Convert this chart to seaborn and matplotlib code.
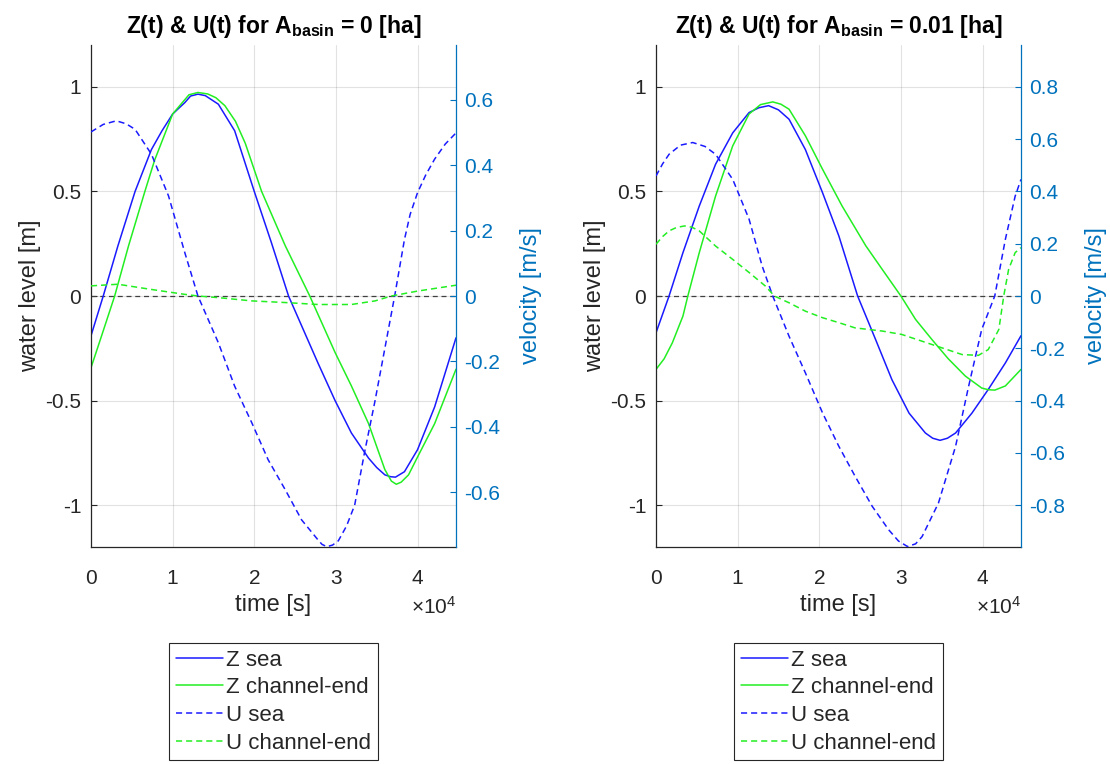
import matplotlib
matplotlib.use("Agg")
import matplotlib.pyplot as plt
import seaborn as sns

# ---------------- data ----------------
# A_basin = 0 [ha]
t_zsea_0 = [0, 1500, 3300, 5400, 7400, 8700, 10000, 11500, 12200, 13100, 14000, 15600,
            17600, 20000, 22100, 24200, 27800, 29900, 31900, 34000, 35000, 36000, 36700,
            37300, 38400, 40000, 42100, 44714]
zsea_0 = [-0.19, 0.0, 0.24, 0.50, 0.70, 0.79, 0.87, 0.925, 0.956, 0.965, 0.958, 0.917,
          0.79, 0.50, 0.255, 0.0, -0.32, -0.50, -0.655, -0.775, -0.82, -0.855, -0.864,
          -0.866, -0.84, -0.735, -0.53, -0.20]

t_zce_0 = [0, 1300, 2900, 4600, 6600, 7800, 10000, 12000, 13100, 14300, 15300, 16400,
           17700, 18900, 20900, 23800, 26800, 29900, 31900, 34000, 36000, 36800, 37400,
           38000, 38900, 40000, 42100, 44714]
zce_0 = [-0.343, -0.19, 0.0, 0.24, 0.50, 0.65, 0.87, 0.962, 0.973, 0.966, 0.948, 0.91,
         0.835, 0.73, 0.50, 0.24, 0.0, -0.27, -0.43, -0.61, -0.83, -0.885, -0.90, -0.89,
         -0.855, -0.77, -0.61, -0.35]

t_usea_0 = [0, 1500, 3100, 4300, 5400, 7400, 9500, 11500, 13100, 15600, 17600, 19700,
            21700, 23800, 25800, 27800, 28300, 28900, 29600, 30300, 31300, 32300, 33500,
            34800, 36000, 37200, 38400, 39100, 40000, 41000, 42100, 43400, 44714]
usea_0 = [0.502, 0.525, 0.536, 0.527, 0.510, 0.434, 0.306, 0.132, 0.0, -0.143, -0.276,
          -0.388, -0.501, -0.593, -0.685, -0.746, -0.760, -0.767, -0.762, -0.749, -0.704,
          -0.64, -0.48, -0.32, -0.16, 0.0, 0.173, 0.25, 0.316, 0.37, 0.419, 0.465, 0.499]

t_uce_0 = [0, 3300, 7400, 11500, 13100, 15600, 19700, 23800, 27800, 31900, 34800, 36800,
           40000, 44714]
uce_0 = [0.031, 0.036, 0.020, 0.005, 0.0, -0.005, -0.015, -0.020, -0.026, -0.026, -0.015,
         0.0, 0.015, 0.033]

# A_basin = 0.01 [ha]
t_zsea_1 = [0, 1600, 3300, 5300, 7300, 9400, 11400, 12600, 13800, 15000, 16300, 18300,
            20400, 22400, 24700, 26900, 28900, 31000, 33000, 33900, 34800, 35700, 36700,
            38700, 40700, 42800, 44714]
zsea_1 = [-0.176, 0.0, 0.207, 0.43, 0.63, 0.78, 0.877, 0.90, 0.91, 0.89, 0.845, 0.70,
          0.494, 0.287, 0.0, -0.208, -0.40, -0.56, -0.655, -0.68, -0.69, -0.68, -0.655,
          -0.56, -0.447, -0.32, -0.19]

t_zce_1 = [0, 1000, 2000, 3300, 3900, 5300, 7300, 9400, 11400, 12800, 14300, 15300,
           16300, 18300, 20400, 22800, 25700, 27700, 30000, 31800, 33800, 35800, 37900,
           39900, 40700, 41500, 42800, 44714]
zce_1 = [-0.351, -0.30, -0.224, -0.096, 0.0, 0.207, 0.478, 0.718, 0.87, 0.915, 0.928,
         0.917, 0.893, 0.766, 0.606, 0.43, 0.24, 0.128, 0.0, -0.112, -0.208, -0.30,
         -0.383, -0.44, -0.448, -0.45, -0.43, -0.351]

t_usea_1 = [0, 800, 1600, 3000, 4500, 6000, 7300, 9400, 11400, 13000, 14300, 16300,
            18300, 20400, 22400, 24400, 26500, 28500, 29700, 30800, 31800, 32600, 34600,
            36700, 38300, 39900, 41500, 42800, 44000, 44714]
usea_1 = [0.459, 0.505, 0.542, 0.577, 0.587, 0.572, 0.542, 0.446, 0.294, 0.115, 0.0,
          -0.154, -0.294, -0.447, -0.575, -0.690, -0.805, -0.894, -0.937, -0.958, -0.948,
          -0.92, -0.792, -0.575, -0.345, -0.128, 0.0, 0.217, 0.382, 0.446]

t_uce_1 = [0, 800, 1600, 2500, 3500, 4400, 5300, 7300, 9400, 11400, 13400, 14500, 16300,
           18300, 20400, 22400, 24400, 27700, 30100, 32600, 35000, 37500, 39500, 40700,
           42000, 42600, 43200, 44000, 44714]
uce_1 = [0.198, 0.227, 0.249, 0.262, 0.268, 0.263, 0.249, 0.191, 0.140, 0.090, 0.038,
         0.0, -0.026, -0.058, -0.083, -0.102, -0.122, -0.134, -0.147, -0.173, -0.198,
         -0.224, -0.227, -0.205, -0.128, 0.0, 0.102, 0.166, 0.185]

basin_areas = ["0", "0.01"]
series_labels = ["Z sea", "Z channel-end", "U sea", "U channel-end"]
x_ticks = [0, 10000, 20000, 30000, 40000]
x_tick_labels = ["0", "1", "2", "3", "4"]
z_ticks = [-1, -0.5, 0, 0.5, 1]
u_ticks_list = [[-0.6, -0.4, -0.2, 0, 0.2, 0.4, 0.6],
                [-0.8, -0.6, -0.4, -0.2, 0, 0.2, 0.4, 0.6, 0.8]]
u_limits = [0.768, 0.96]
t_end = 44714

panels = [
    (t_zsea_0, zsea_0, t_zce_0, zce_0, t_usea_0, usea_0, t_uce_0, uce_0),
    (t_zsea_1, zsea_1, t_zce_1, zce_1, t_usea_1, usea_1, t_uce_1, uce_1),
]

# ---------------- style ----------------
sns.set_style("white")
TXT = "#262626"
RBLUE = "#0072BD"
plt.rcParams["font.family"] = ["Liberation Sans", "DejaVu Sans"]
plt.rcParams["mathtext.fontset"] = "custom"
plt.rcParams["mathtext.rm"] = "Liberation Sans"
plt.rcParams["mathtext.it"] = "Liberation Sans:italic"
plt.rcParams["mathtext.bf"] = "Liberation Sans:bold"
plt.rcParams["axes.unicode_minus"] = False

fig = plt.figure(figsize=(11.1, 7.64), dpi=100)
W, H = 1110.0, 764.0
ax_lefts = [91, 656]
ax_top, ax_bot, ax_w = 45, 547, 365

BLUE = "#1a1aff"
GREEN = "#22ee22"
DASH = (0, (4, 2.6))
LW = 1.1

for i, (tzs, zs, tzc, zc, tus, us, tuc, uc) in enumerate(panels):
    ax = fig.add_axes([ax_lefts[i] / W, 1 - ax_bot / H, ax_w / W, (ax_bot - ax_top) / H])
    ax2 = ax.twinx()

    ax.axhline(0, color="#404040", lw=0.9, ls=(0, (4, 3)), zorder=1)
    sns.lineplot(x=tzs, y=zs, ax=ax, color=BLUE, linewidth=LW, sort=False,
                 estimator=None, legend=False)
    h1 = ax.lines[-1]
    sns.lineplot(x=tzc, y=zc, ax=ax, color=GREEN, linewidth=LW, sort=False,
                 estimator=None, legend=False)
    h2 = ax.lines[-1]
    sns.lineplot(x=tus, y=us, ax=ax2, color=BLUE, linewidth=LW, sort=False,
                 estimator=None, legend=False, linestyle=DASH)
    h3 = ax2.lines[-1]
    sns.lineplot(x=tuc, y=uc, ax=ax2, color=GREEN, linewidth=LW, sort=False,
                 estimator=None, legend=False, linestyle=DASH)
    h4 = ax2.lines[-1]

    ax.set_xlim(0, t_end)
    ax.set_ylim(-1.2, 1.2)
    ax2.set_ylim(-u_limits[i], u_limits[i])

    ax.set_xticks(x_ticks)
    ax.set_xticklabels(x_tick_labels)
    ax.set_yticks(z_ticks)
    ax.set_yticklabels(["%g" % v for v in z_ticks])
    ax2.set_yticks(u_ticks_list[i])
    ax2.set_yticklabels(["%g" % v for v in u_ticks_list[i]])

    ax.grid(True, color=TXT, alpha=0.13, lw=0.8)
    ax2.grid(False)

    for s in ["top", "right"]:
        ax.spines[s].set_visible(False)
    for s in ["top", "left", "bottom"]:
        ax2.spines[s].set_visible(False)
    ax.spines["left"].set_color(TXT)
    ax.spines["bottom"].set_color(TXT)
    ax.spines["left"].set_linewidth(0.9)
    ax.spines["bottom"].set_linewidth(0.9)
    ax2.spines["right"].set_color(RBLUE)
    ax2.spines["right"].set_linewidth(0.9)

    ax.tick_params(axis="x", direction="in", length=4, width=0.8, color=TXT,
                   labelcolor=TXT, labelsize=15, pad=16)
    ax.tick_params(axis="y", direction="in", length=4, width=0.8, color=TXT,
                   labelcolor=TXT, labelsize=15, pad=7)
    ax2.tick_params(axis="y", direction="in", length=4, width=0.8, color=RBLUE,
                    labelcolor=RBLUE, labelsize=15, pad=6)

    ax.set_xlabel("time [s]", fontsize=17, color=TXT, labelpad=4)
    ax.set_ylabel("water level [m]", fontsize=17, color=TXT, labelpad=3)
    ax2.set_ylabel("velocity [m/s]", fontsize=17, color=RBLUE, labelpad=14)

    ax.text(1.0, -0.12, r"$\times$10$^{4}$", transform=ax.transAxes, ha="right",
            va="center", fontsize=15, color=TXT)

    ax.set_title(r"Z(t) & U(t) for $\mathbf{A_{basin}}$ = " + basin_areas[i] + " [ha]",
                 fontsize=16.5, fontweight="bold", color="black", pad=9)

    leg = ax2.legend([h1, h2, h3, h4], series_labels, loc="upper center",
                     bbox_to_anchor=(0.5, -0.191), borderaxespad=0, fontsize=16,
                     frameon=True, fancybox=False, edgecolor=TXT, framealpha=1,
                     handlelength=2.1, handletextpad=0.15, labelspacing=0.3,
                     borderpad=0.3)
    leg.get_frame().set_linewidth(0.8)
    for t in leg.get_texts():
        t.set_color(TXT)

fig.savefig("out.png", dpi=100)
